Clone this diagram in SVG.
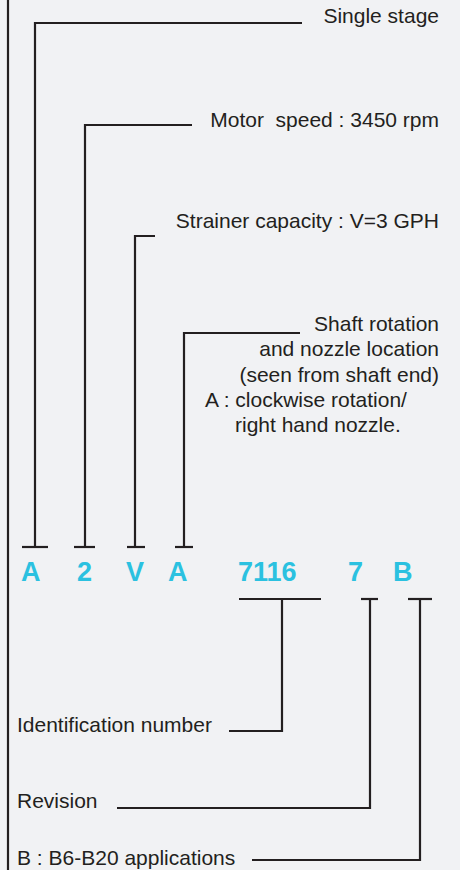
<svg xmlns="http://www.w3.org/2000/svg" width="460" height="870" viewBox="0 0 460 870">
<style>
.ln{fill:none;stroke:#231f20;stroke-width:2.2;stroke-linecap:butt;stroke-linejoin:miter}
.t{font-family:"Liberation Sans",Arial,sans-serif;font-size:21px;fill:#231f20}
.r{text-anchor:end}
.c{font-family:"Liberation Sans",Arial,sans-serif;font-size:27px;font-weight:bold;fill:#2bc1e0}
</style>
<rect x="0" y="0" width="460" height="870" fill="#f1f2f4"/>
<line class="ln" x1="8" y1="0" x2="8" y2="870"/>
<g id="connectors">
<polyline class="ln" points="302,23 35,23 35,547"/>
<line class="ln" x1="22" y1="547" x2="48" y2="547"/>
<polyline class="ln" points="192,125 85,125 85,547"/>
<line class="ln" x1="74" y1="547" x2="95" y2="547"/>
<polyline class="ln" points="155,236 135,236 135,547"/>
<line class="ln" x1="127" y1="547" x2="145" y2="547"/>
<polyline class="ln" points="300,333 184,333 184,547"/>
<line class="ln" x1="175" y1="547" x2="193" y2="547"/>
<line class="ln" x1="239" y1="599" x2="321" y2="599"/>
<polyline class="ln" points="282,599 282,731 229,731"/>
<line class="ln" x1="361" y1="599" x2="378" y2="599"/>
<polyline class="ln" points="370,599 370,808 117,808"/>
<line class="ln" x1="408" y1="599" x2="432" y2="599"/>
<polyline class="ln" points="420,599 420,860 252,860"/>
</g>
<g id="single-stage"><text class="t r" x="439" y="23">Single stage</text></g>
<g id="motor-speed"><text class="t r" x="439" y="127" xml:space="preserve">Motor  speed : 3450 rpm</text></g>
<g id="strainer"><text class="t r" x="439" y="228">Strainer capacity : V=3 GPH</text></g>
<g id="shaft">
<text class="t r" x="439" y="331">Shaft rotation</text>
<text class="t r" x="439" y="356">and nozzle location</text>
<text class="t r" x="439" y="382">(seen from shaft end)</text>
<text class="t" x="205" y="407">A : clockwise rotation/</text>
<text class="t" x="235" y="432">right hand nozzle.</text>
</g>
<g id="code">
<text class="c" x="21" y="581">A</text>
<text class="c" x="77" y="581">2</text>
<text class="c" x="126" y="581">V</text>
<text class="c" x="168" y="581">A</text>
<text class="c" x="238" y="581">7116</text>
<text class="c" x="348" y="581">7</text>
<text class="c" x="393" y="581">B</text>
</g>
<g id="identification"><text class="t" x="17" y="732">Identification number</text></g>
<g id="revision"><text class="t" x="17" y="808">Revision</text></g>
<g id="application"><text class="t" x="17" y="865">B : B6-B20 applications</text></g>
</svg>
